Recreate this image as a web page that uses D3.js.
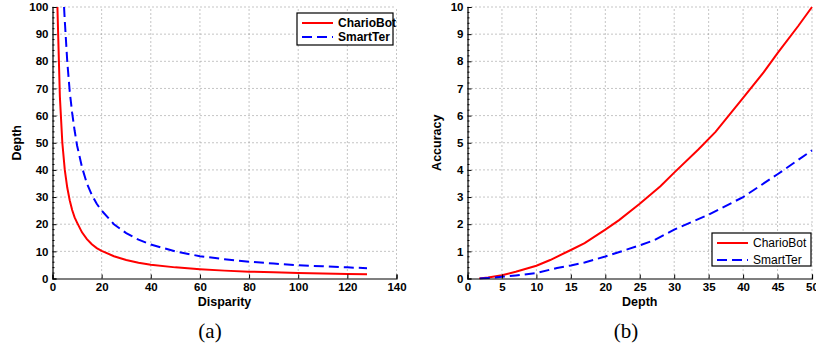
<!DOCTYPE html>
<html><head><meta charset="utf-8">
<script src="https://cdn.jsdelivr.net/npm/d3@7/dist/d3.min.js"></script>
<style>body{margin:0;background:#fff}svg{display:block}</style>
</head><body><svg id="c" width="816" height="355"></svg>
<script>
// Plot (a): Depth vs Disparity
const dispRed   = [2, 3, 4, 5, 6, 7, 8, 9, 10, 12, 14, 16, 18, 20, 25, 30, 35, 40, 50, 60, 70, 80, 90, 100, 110, 120, 128];
const depthRed  = [100, 67, 50, 40, 33.5, 28.8, 25.2, 22.5, 20.6, 17, 14.5, 12.6, 11.2, 10.2, 8.2, 6.8, 5.8, 5.1, 4.1, 3.4, 2.9, 2.5, 2.3, 2.0, 1.8, 1.65, 1.55];
const dispBlue  = [4.7, 5, 6, 7, 8, 9, 10, 12, 14, 16, 18, 20, 25, 30, 35, 40, 50, 60, 70, 80, 90, 100, 110, 120, 128];
const depthBlue = [100, 95, 80, 69, 61, 54.5, 49, 41, 35, 30.8, 27.5, 25, 20, 16.7, 14.3, 12.5, 10, 8.2, 7.1, 6.2, 5.5, 4.9, 4.5, 4.1, 3.8];
// Plot (b): Accuracy vs Depth
const depthR = [1.7, 3, 5, 7, 10, 12, 15, 17, 20, 22, 25, 28, 30, 33.5, 36, 40, 43, 45, 48, 50];
const accR   = [0, 0.04, 0.12, 0.25, 0.47, 0.68, 1.05, 1.3, 1.8, 2.15, 2.75, 3.4, 3.9, 4.75, 5.4, 6.65, 7.6, 8.3, 9.3, 10];
const depthB = [1.8, 3, 5, 7, 10, 13, 15, 17, 20, 25, 27, 30, 35, 40, 45, 50];
const accB   = [0, 0.02, 0.06, 0.11, 0.2, 0.39, 0.48, 0.59, 0.81, 1.22, 1.4, 1.8, 2.35, 3.0, 3.84, 4.72];
const seriesNames = ["CharioBot", "SmartTer"];
const xTicksA = [0, 20, 40, 60, 80, 100, 120, 140];
const yTicksA = [0, 10, 20, 30, 40, 50, 60, 70, 80, 90, 100];
const xTicksB = [0, 5, 10, 15, 20, 25, 30, 35, 40, 45, 50];
const yTicksB = [0, 1, 2, 3, 4, 5, 6, 7, 8, 9, 10];

const svg = d3.select("#c");
const FONT = "'Liberation Sans', Arial, Helvetica, sans-serif";

function panel(o) {
  const x = d3.scaleLinear().domain(o.xd).range([o.left, o.right]);
  const y = d3.scaleLinear().domain(o.yd).range([o.bottom, o.top]);
  const g = svg.append("g");
  // grid
  g.append("g").selectAll("line").data(o.xt.filter(v => v !== o.xd[0])).join("line")
    .attr("x1", d => x(d)).attr("x2", d => x(d)).attr("y1", o.bottom).attr("y2", o.top)
    .attr("stroke", "#8a8a8a").attr("stroke-width", 1).attr("stroke-dasharray", "1,3");
  g.append("g").selectAll("line").data(o.yt.filter(v => v !== o.yd[0])).join("line")
    .attr("y1", d => y(d)).attr("y2", d => y(d)).attr("x1", o.left).attr("x2", o.right)
    .attr("stroke", "#8a8a8a").attr("stroke-width", 1).attr("stroke-dasharray", "1,3");
  // series
  const clipId = "clip" + o.id;
  svg.append("clipPath").attr("id", clipId).append("rect")
    .attr("x", o.left).attr("y", o.top - 1).attr("width", o.right - o.left + 2).attr("height", o.bottom - o.top + 2);
  const line = d3.line().x(d => x(d[0])).y(d => y(d[1]));
  o.series.forEach(s => {
    g.append("path").datum(d3.zip(s.x, s.y)).attr("d", line)
      .attr("fill", "none").attr("stroke", s.color).attr("stroke-width", 2)
      .attr("stroke-dasharray", s.dash || null).attr("clip-path", `url(#${clipId})`);
  });
  // axes
  const ax = g.append("g").attr("transform", `translate(0,${o.bottom})`)
    .call(d3.axisBottom(x).tickValues(o.xt).tickSize(-4).tickPadding(4).tickFormat(d3.format("d")));
  const ay = g.append("g").attr("transform", `translate(${o.left},0)`)
    .call(d3.axisLeft(y).tickValues(o.yt).tickSize(-4).tickPadding(4).tickFormat(d3.format("d")));
  [ax, ay].forEach(a => {
    a.select(".domain").attr("stroke", "#000").attr("stroke-width", 1.2);
    a.selectAll("text").attr("font-family", FONT).attr("font-weight", "bold").attr("font-size", 11.5).attr("fill", "#000");
    a.selectAll(".tick line").attr("stroke", "#000");
  });
  // minor ticks
  const minor = [];
  for (let i = 0; i < o.yt.length - 1; i++) {
    const st = (o.yt[i + 1] - o.yt[i]) / 5;
    for (let k = 1; k < 5; k++) minor.push(o.yt[i] + k * st);
  }
  g.append("g").selectAll("line").data(minor).join("line")
    .attr("x1", o.left).attr("x2", o.left + 2).attr("y1", d => y(d)).attr("y2", d => y(d))
    .attr("stroke", "#000").attr("stroke-width", 1);
  // titles
  g.append("text").attr("x", (o.left + o.right) / 2).attr("y", o.bottom + 27)
    .attr("text-anchor", "middle").attr("font-family", FONT).attr("font-weight", "bold").attr("font-size", 12.5).text(o.xl);
  g.append("text").attr("transform", `translate(${o.ylx},${(o.top + o.bottom) / 2}) rotate(-90)`)
    .attr("text-anchor", "middle").attr("font-family", FONT).attr("font-weight", "bold").attr("font-size", 12.5).text(o.yl);
  // legend
  const L = o.legend;
  g.append("rect").attr("x", L.x).attr("y", L.y).attr("width", L.w).attr("height", L.h)
    .attr("fill", "#fff").attr("stroke", "#000").attr("stroke-width", 1.2);
  o.series.forEach((s, i) => {
    const yy = L.y + L.r0 + i * L.dr;
    g.append("line").attr("x1", L.x + L.lx0).attr("x2", L.x + L.lx1).attr("y1", yy).attr("y2", yy)
      .attr("stroke", s.color).attr("stroke-width", 2).attr("stroke-dasharray", s.dash || null);
    g.append("text").attr("x", L.x + L.tx).attr("y", yy).attr("dy", "0.36em")
      .attr("font-family", FONT).attr("font-weight", L.bold ? "bold" : "normal").attr("font-size", 12).text(seriesNames[i]);
  });
  // caption
  svg.append("text").attr("x", o.capx).attr("y", 338).attr("text-anchor", "middle")
    .attr("font-family", "'Liberation Serif', 'Times New Roman', serif").attr("font-size", 21).text(o.cap);
}

panel({
  id: "a", left: 52.5, right: 396.5, top: 7, bottom: 278.5,
  xd: [0, 140], yd: [0, 100], xt: xTicksA, yt: yTicksA,
  xl: "Disparity", yl: "Depth", ylx: 21,
  series: [{x: dispRed, y: depthRed, color: "#ff0000"}, {x: dispBlue, y: depthBlue, color: "#0000ff", dash: "10,5"}],
  legend: {x: 297, y: 13, w: 96, h: 32, r0: 10, dr: 14, lx0: 5, lx1: 36, tx: 41, bold: true},
  capx: 210, cap: "(a)"
});
panel({
  id: "b", left: 467.5, right: 812, top: 7, bottom: 278.5,
  xd: [0, 50], yd: [0, 10], xt: xTicksB, yt: yTicksB,
  xl: "Depth", yl: "Accuracy", ylx: 441,
  series: [{x: depthR, y: accR, color: "#ff0000"}, {x: depthB, y: accB, color: "#0000ff", dash: "10,5"}],
  legend: {x: 712, y: 233, w: 99, h: 33, r0: 10, dr: 17, lx0: 5, lx1: 36, tx: 41, bold: false},
  capx: 626, cap: "(b)"
});
</script></body></html>
